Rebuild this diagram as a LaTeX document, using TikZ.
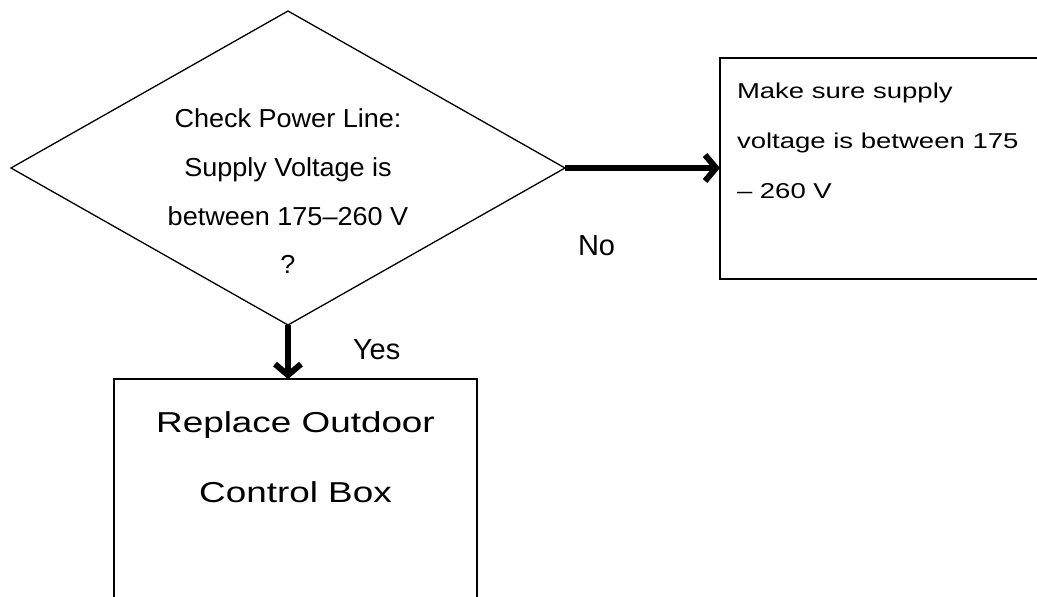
\documentclass[tikz,border=0pt]{standalone}
\usepackage{fontspec}
\setmainfont{Liberation Sans}
\newfontfamily\widefont[FakeStretch=1.28]{Liberation Sans}
\newfontfamily\diafont[FakeStretch=1.04]{Liberation Sans}
\usetikzlibrary{arrows.meta, positioning, shapes.geometric}

\begin{document}
\begin{tikzpicture}[
    x=1pt, y=-1pt,
    every node/.style={inner sep=0pt, outer sep=0pt},
]

\tikzset{
    decision/.style={diamond, draw, line width=1.3pt,
        minimum width=554pt, minimum height=314pt},
    stepbox/.style={rectangle, draw, line width=2pt},
    flow/.style={line width=6pt,
        -{Straight Barb[length=11pt, width=26pt, line width=6pt]}},
    lbl/.style={font=\fontsize{29}{35}\selectfont},
}

% page is 1037 x 597, one unit = one pixel, y runs down
\useasboundingbox (0,0) rectangle (1037,597);
\clip (0,0) rectangle (1037,597);

% ---------------------------------------------------------------- the question
\node[decision] (check) at (288,168) {};
\node[align=center, anchor=north, below=98pt of check.north,
      font=\diafont\fontsize{26}{48.7}\selectfont] (checktext)
    {Check Power Line:\\Supply Voltage is\\between 175–260 V\\?};

% ---------------------------------------------------------------- no: fix supply
% box runs off the right edge of the page
\node[stepbox, minimum width=340pt, minimum height=221pt] (fix) at (890,168.5) {};
\node[align=left, below right=24.5pt and 17pt of fix.north west,
      font=\widefont\fontsize{21.5}{50}\selectfont] (fixtext)
    {Make sure supply\\voltage is between 175\\– 260 V};

% ---------------------------------------------------------------- yes: replace
% box runs off the bottom of the page
\node[stepbox, minimum width=363pt, minimum height=261pt] (replace) at (295.5,509.5) {};
\node[align=center, below=32.5pt of replace.north,
      font=\widefont\fontsize{28.8}{70}\selectfont] (replacetext)
    {Replace Outdoor\\Control Box};

% ---------------------------------------------------------------- connectors
\draw[flow] (check.east) -- (check.east -| fix.west);
\draw[flow] (check.south) -- (check.south |- replace.north);

\node[lbl, anchor=base west] (no) at (578,255) {No};
\node[lbl, anchor=base west] (yes) at (353,359) {Yes};

\end{tikzpicture}
\end{document}
